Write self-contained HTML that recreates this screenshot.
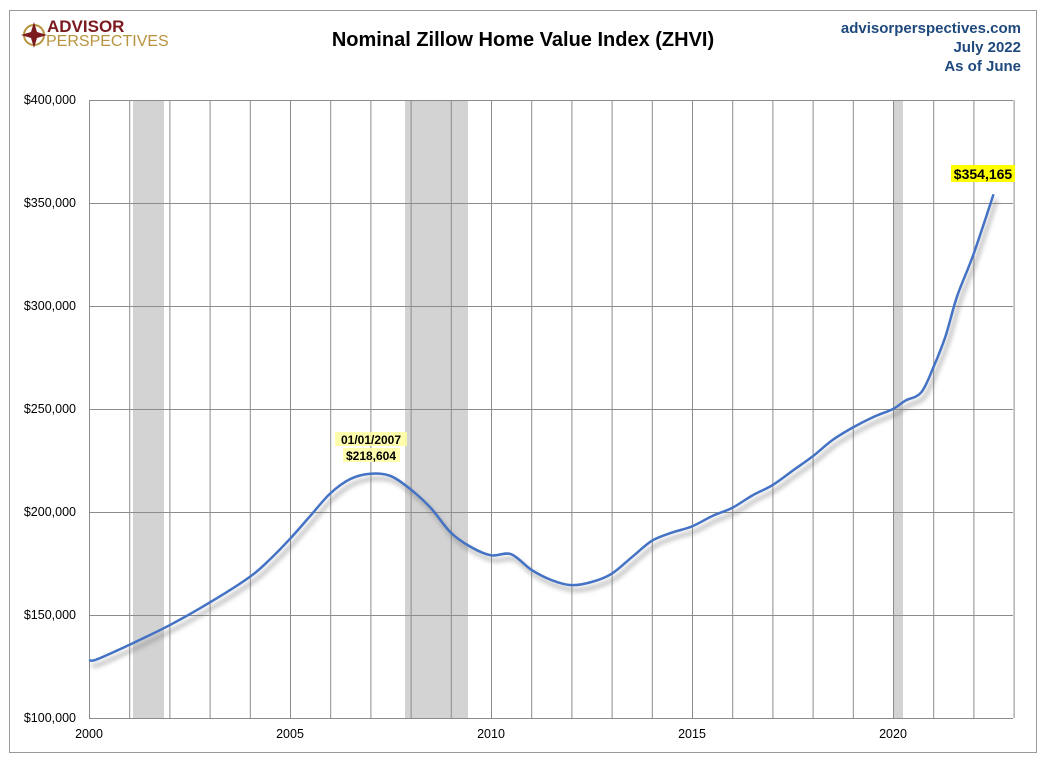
<!DOCTYPE html>
<html><head><meta charset="utf-8"><style>
html,body{margin:0;padding:0;background:#fff;}
body{width:1047px;height:764px;overflow:hidden;font-family:"Liberation Sans",sans-serif;}
</style></head><body>
<svg id="s" width="1047" height="764" xmlns="http://www.w3.org/2000/svg" font-family="Liberation Sans, sans-serif">
<defs><filter id="sh" x="-5%" y="-5%" width="110%" height="120%"><feGaussianBlur stdDeviation="2.5"/></filter></defs>
<rect x="9.5" y="10.5" width="1027" height="742" fill="#fff" stroke="#999" stroke-width="1"/>
<g id="rec" fill="#d3d3d3">
<rect x="133" y="100" width="31" height="618"/>
<rect x="405" y="100" width="63" height="618"/>
<rect x="893" y="100" width="10" height="618"/>
</g>
<g id="grid" stroke="#8c8c8c" stroke-width="1"></g>
<g id="lab" font-size="12.5" fill="#000"></g>
<path id="shadow" fill="none" stroke="#777" stroke-width="3" opacity="0.6" filter="url(#sh)" transform="translate(3,5)"/>
<path id="line" fill="none" stroke="#4472c4" stroke-width="2.5"/>
<text x="523" y="46" text-anchor="middle" font-size="20" font-weight="bold">Nominal Zillow Home Value Index (ZHVI)</text>
<text x="1021" y="33" text-anchor="end" font-size="15" font-weight="bold" fill="#1f497d">advisorperspectives.com</text>
<text x="1021" y="52" text-anchor="end" font-size="15" font-weight="bold" fill="#1f497d">July 2022</text>
<text x="1021" y="71" text-anchor="end" font-size="15" font-weight="bold" fill="#1f497d">As of June</text>
<circle cx="34" cy="35" r="10" fill="none" stroke="#b8933f" stroke-width="2"/>
<path d="M34 22 L37 32 L47 35 L37 38 L34 48 L31 38 L21 35 L31 32 Z" fill="#7b1a1f"/>
<text x="47" y="32" font-size="17" font-weight="bold" fill="#7b1a1f">ADVISOR</text>
<text x="46" y="46" font-size="16" fill="#b8933f">PERSPECTIVES</text>
<g font-size="12" font-weight="bold" text-anchor="middle">
<rect x="335" y="432" width="72" height="14" fill="#ffff99" opacity="0.8"/>
<rect x="343" y="448" width="57" height="14" fill="#ffff99" opacity="0.8"/>
<text x="371" y="444">01/01/2007</text>
<text x="371" y="460">$218,604</text>
<rect x="951" y="165" width="64" height="17" fill="#ffff00"/>
<text x="983" y="179" font-size="14">$354,165</text>
</g>
</svg>
<script>
var X=function(y){return 89+(y-2000)*40.2},Y=function(v){return 718-(v-100)*2.06};
var g=document.getElementById('grid'),l=document.getElementById('lab'),s='';
for(var yr=2000;yr<=2023;yr++){s+='<line x1="'+(X(yr)+.5)+'" y1="100" x2="'+(X(yr)+.5)+'" y2="718"/>';}
for(var v=100;v<=400;v+=50){s+='<line x1="89" y1="'+(Y(v)+.5)+'" x2="1013" y2="'+(Y(v)+.5)+'"/>';}
g.innerHTML=s;
var t='';
for(var v=100;v<=400;v+=50){t+='<text x="76" y="'+(Y(v)+4)+'" text-anchor="end">$'+v+',000</text>';}
for(var yr=2000;yr<=2020;yr+=5){t+='<text x="'+X(yr)+'" y="738" text-anchor="middle">'+yr+'</text>';}
l.innerHTML=t;
var d=[[2000,128],[2000.2,128.5],[2001,135.5],[2002,145],[2003,156],[2004,168.5],[2004.5,177],[2005,187],[2005.5,198],[2006,209],[2006.5,216],[2007,218.6],[2007.5,217.5],[2008,211],[2008.5,202],[2009,190],[2009.5,183],[2010,179],[2010.5,179.5],[2011,172],[2011.5,167],[2012,164.5],[2012.5,166],[2013,170],[2013.5,178],[2014,186],[2014.5,190],[2015,193],[2015.5,198],[2016,202],[2016.5,208],[2017,213],[2017.5,220],[2018,227],[2018.5,235],[2019,241],[2019.5,246],[2020,250],[2020.3,254],[2020.7,258],[2021,270],[2021.3,285],[2021.6,305],[2022,325],[2022.5,354.2]];
var P=d.map(function(a){return [X(a[0]),Y(a[1])]});
var p='M'+P[0][0].toFixed(1)+' '+P[0][1].toFixed(1);
for(var i=0;i<P.length-1;i++){var p0=P[Math.max(i-1,0)],p1=P[i],p2=P[i+1],p3=P[Math.min(i+2,P.length-1)];
var c1=[p1[0]+(p2[0]-p0[0])/6,p1[1]+(p2[1]-p0[1])/6],c2=[p2[0]-(p3[0]-p1[0])/6,p2[1]-(p3[1]-p1[1])/6];
p+=' C'+c1[0].toFixed(1)+' '+c1[1].toFixed(1)+' '+c2[0].toFixed(1)+' '+c2[1].toFixed(1)+' '+p2[0].toFixed(1)+' '+p2[1].toFixed(1);}
document.getElementById('line').setAttribute('d',p);document.getElementById('shadow').setAttribute('d',p);
</script>
</body></html>
